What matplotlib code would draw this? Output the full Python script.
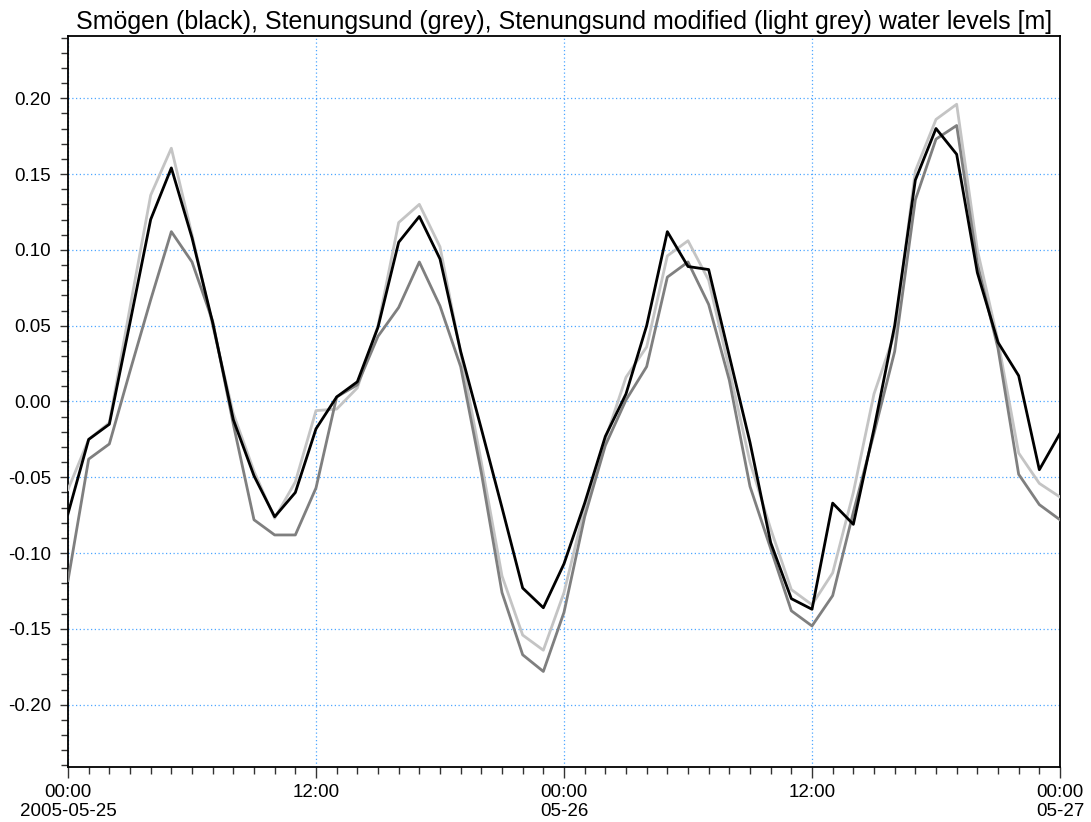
import matplotlib
matplotlib.use("Agg")
import matplotlib.pyplot as plt
import matplotlib.dates as mdates
from matplotlib.ticker import MultipleLocator, FixedLocator, FuncFormatter
import pandas as pd

# Hourly water levels [m], 2005-05-25 00:00 .. 2005-05-27 00:00
start = "2005-05-25 00:00"
n_hours = 49

smogen = [
    -0.074, -0.025, -0.015, 0.052, 0.120, 0.154, 0.108, 0.052, -0.012, -0.049,
    -0.076, -0.060, -0.018, 0.003, 0.013, 0.049, 0.105, 0.122, 0.094, 0.033,
    -0.018, -0.070, -0.123, -0.136, -0.107, -0.067, -0.023, 0.005, 0.050, 0.112,
    0.089, 0.087, 0.030, -0.027, -0.093, -0.130, -0.137, -0.067, -0.081, -0.018,
    0.050, 0.146, 0.180, 0.163, 0.085, 0.039, 0.017, -0.045, -0.021,
]
stenungsund = [
    -0.118, -0.038, -0.028, 0.020, 0.067, 0.112, 0.092, 0.053, -0.015, -0.078,
    -0.088, -0.088, -0.057, 0.003, 0.011, 0.043, 0.062, 0.092, 0.063, 0.023,
    -0.047, -0.126, -0.167, -0.178, -0.139, -0.076, -0.029, 0.001, 0.023, 0.082,
    0.092, 0.064, 0.014, -0.056, -0.097, -0.138, -0.148, -0.128, -0.073, -0.021,
    0.033, 0.133, 0.173, 0.182, 0.091, 0.035, -0.048, -0.068, -0.078,
]
stenungsund_mod = [
    -0.058, -0.025, -0.014, 0.062, 0.136, 0.167, 0.110, 0.050, -0.008, -0.046,
    -0.077, -0.053, -0.006, -0.005, 0.009, 0.050, 0.118, 0.130, 0.102, 0.032,
    -0.040, -0.115, -0.154, -0.164, -0.126, -0.070, -0.025, 0.016, 0.036, 0.096,
    0.106, 0.080, 0.021, -0.040, -0.084, -0.124, -0.134, -0.113, -0.060, 0.005,
    0.045, 0.152, 0.186, 0.196, 0.100, 0.040, -0.034, -0.054, -0.063,
]

x_tick_labels = ["00:00\n2005-05-25", "12:00", "00:00\n05-26", "12:00", "00:00\n05-27"]
title = "Smögen (black), Stenungsund (grey), Stenungsund modified (light grey) water levels [m]"

times = pd.date_range(start, periods=n_hours, freq="h")

plt.rcParams["font.family"] = ["Liberation Sans", "DejaVu Sans"]

fig = plt.figure(figsize=(10.91, 8.22), dpi=100)
ax = fig.add_axes([68 / 1091, 1 - 767 / 822, (1060 - 68) / 1091, (767 - 36) / 822])

lw = 2.0
ax.plot(times, stenungsund_mod, color="#c4c4c4", lw=lw, zorder=3)
ax.plot(times, stenungsund, color="#7f7f7f", lw=lw, zorder=4)
ax.plot(times, smogen, color="#000000", lw=lw, zorder=5)

ax.set_xlim(times[0], times[-1])
ax.set_ylim(-0.241, 0.241)

# x axis: labelled ticks every 12 h, minor ticks every hour
major_x = mdates.date2num(pd.date_range(start, periods=5, freq="12h"))
ax.xaxis.set_major_locator(FixedLocator(major_x))
ax.xaxis.set_minor_locator(mdates.HourLocator())
ax.set_xticklabels(x_tick_labels)

ax.yaxis.set_major_locator(MultipleLocator(0.05))
ax.yaxis.set_minor_locator(MultipleLocator(0.01))
ax.yaxis.set_major_formatter(FuncFormatter(lambda v, p: f"{v:.2f}" if abs(v) < 0.2001 else ""))

ax.tick_params(axis="both", which="major", labelsize=13.5, color="#333333", width=1.0)
ax.tick_params(axis="x", which="major", length=8, pad=4)
ax.tick_params(axis="y", which="major", length=6, pad=6)
ax.tick_params(axis="both", which="minor", length=5, color="#333333", width=1.0)

ax.grid(True, which="major", color="#4da6ff", linestyle=(0, (1, 2)), linewidth=0.9)
for s in ax.spines.values():
    s.set_linewidth(1.3)

ax.set_title(title, fontsize=18, pad=5)

fig.savefig("out.png", dpi=100)
